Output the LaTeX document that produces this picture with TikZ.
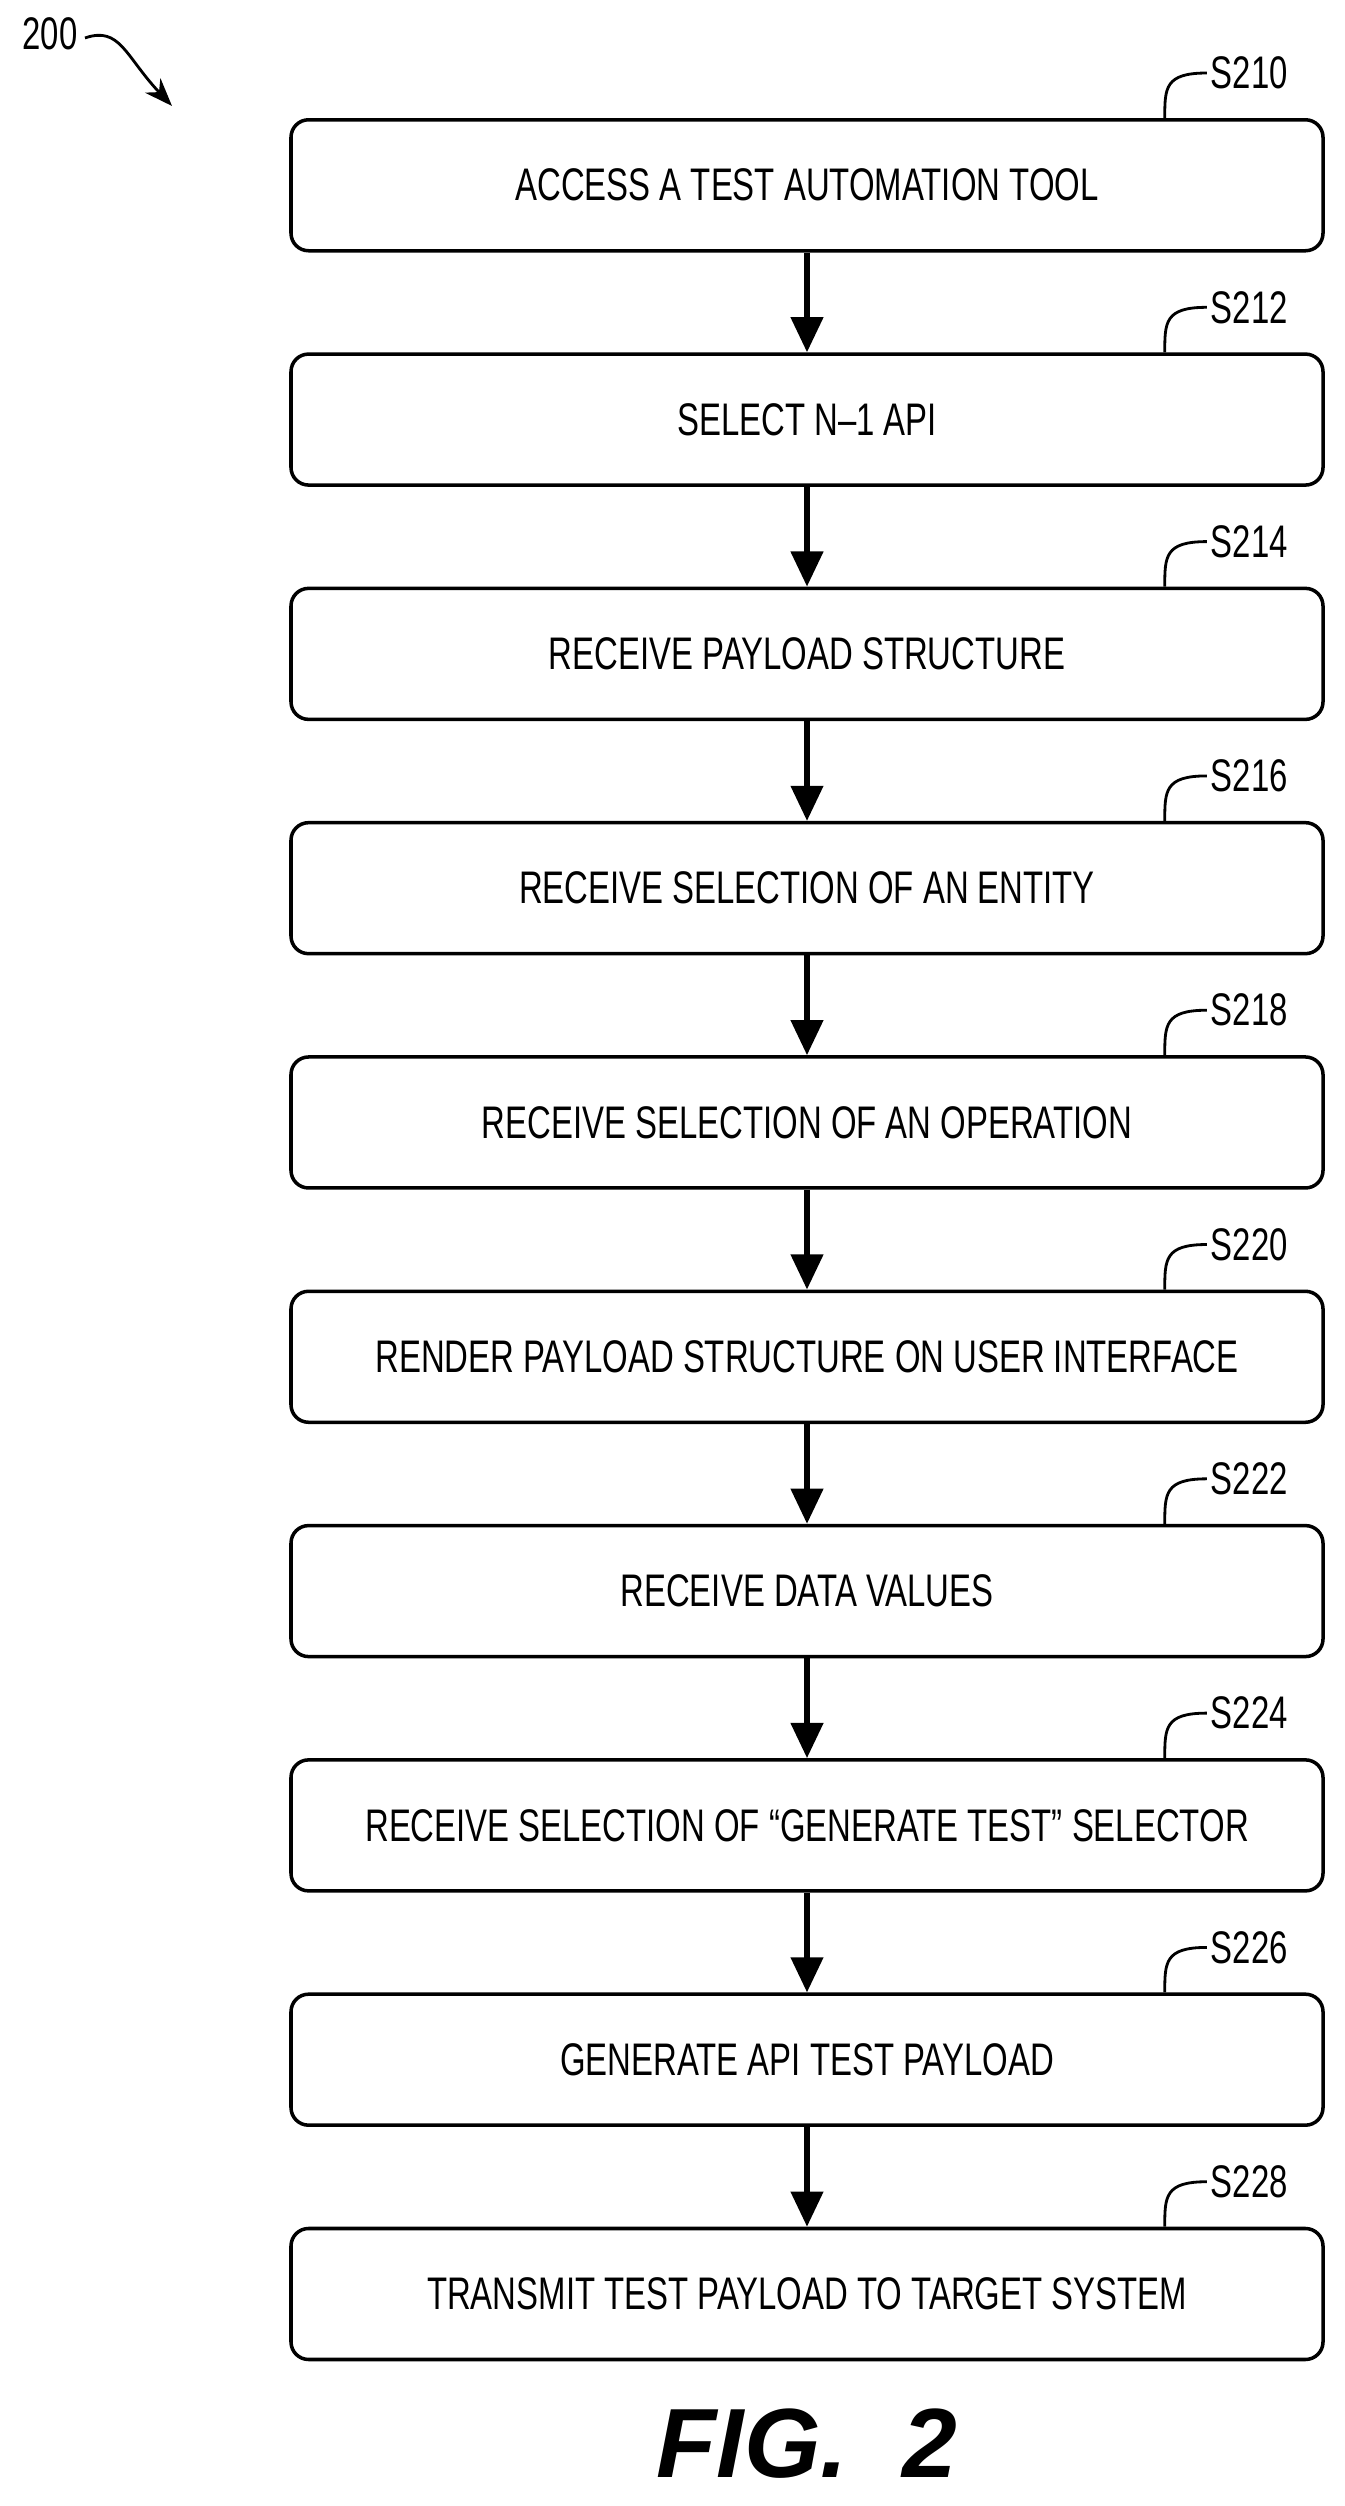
\documentclass[tikz,border=0pt]{standalone}
\usepackage{fontspec}
\setmainfont{Liberation Sans}
\newfontfamily\narrowfont[FakeStretch=0.72]{Liberation Sans}
\usetikzlibrary{arrows.meta,positioning}

\tikzset{stepbox/.style={draw,line width=1pt,rounded corners=5pt,minimum width=10.32cm,minimum height=1.31cm,font=\narrowfont\fontsize{13}{15}\selectfont},
         steplabel/.style={font=\narrowfont\fontsize{13}{15}\selectfont,anchor=west,inner sep=1pt},
         flow/.style={-{Triangle[length=10pt,width=9pt]},line width=1.6pt}}

\begin{document}
\begin{tikzpicture}
		\useasboundingbox (0,0) rectangle (13.44,25.06);
		%\draw[help lines] (0,0) grid (13.44,25.06);
		\node[font=\narrowfont\fontsize{13}{15}\selectfont,inner sep=1pt] (fig) at (0.5,24.72) {200};
		\draw[-{Stealth[length=8pt]},line width=0.8pt] (0.85,24.68) .. controls (1.2,24.8) and (1.25,24.5) .. (1.72,24.0);
		\foreach \num/\txt [count=\i from 0] in {210/ACCESS A TEST AUTOMATION TOOL,
				212/SELECT N–1 API,
				214/RECEIVE PAYLOAD STRUCTURE,
				216/RECEIVE SELECTION OF AN ENTITY,
				218/RECEIVE SELECTION OF AN OPERATION,
				220/RENDER PAYLOAD STRUCTURE ON USER INTERFACE,
				222/RECEIVE DATA VALUES,
				224/{RECEIVE SELECTION OF “GENERATE TEST” SELECTOR},
				226/GENERATE API TEST PAYLOAD,
				228/TRANSMIT TEST PAYLOAD TO TARGET SYSTEM}
		{
			\node[stepbox] (s\num) at (8.07,{25.06-1.853-\i*2.343}) {\txt};
			\coordinate (c\num) at ([xshift=-1.6cm]s\num.north east);
			\node[steplabel] (l\num) at ([xshift=0.42cm,yshift=0.45cm]c\num) {S\num};
			\draw[line width=0.8pt] (c\num) .. controls ([yshift=0.3cm]c\num) and ([yshift=0.45cm]c\num) .. (l\num.west);
		}
		\foreach \a/\b in {210/212,212/214,214/216,216/218,218/220,220/222,222/224,224/226,226/228}
			\draw[flow] (s\a) -- (s\b);
		\node[font=\bfseries\itshape\fontsize{28}{32}\selectfont] (cap) at (8.07,0.62) {FIG.~~2};
\end{tikzpicture}
\end{document}
